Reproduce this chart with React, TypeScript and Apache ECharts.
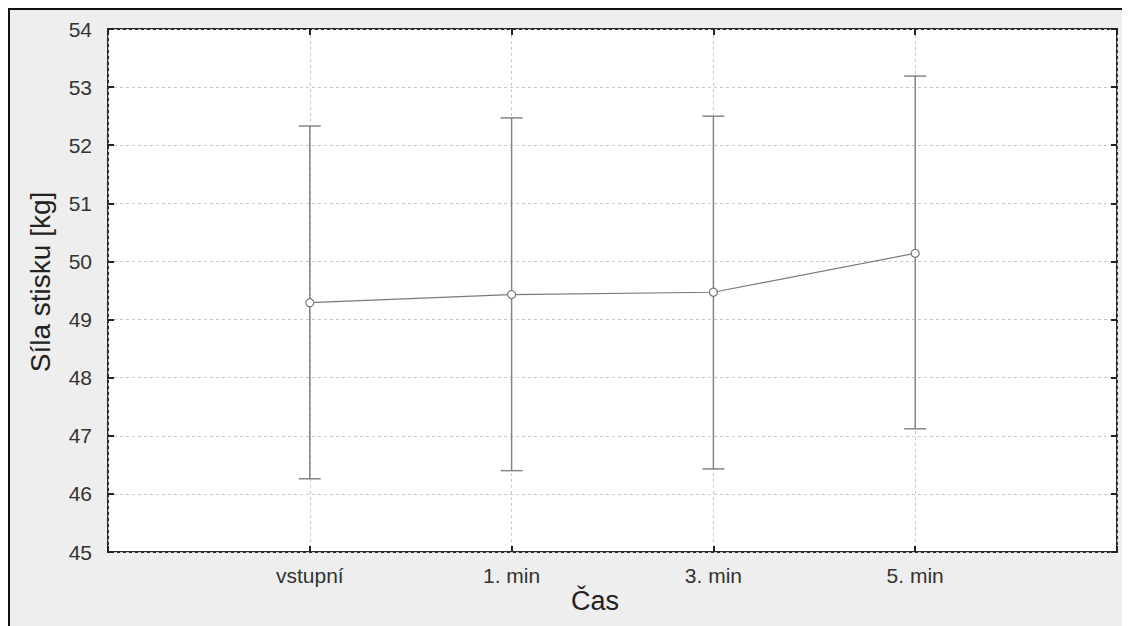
import React, { useEffect, useRef } from "react";
import * as echarts from "echarts";

const categories = ["", "vstupní", "1. min", "3. min", "5. min", ""];
const means = [49.29, 49.43, 49.47, 50.14];
const lower = [46.26, 46.40, 46.43, 47.12];
const upper = [52.33, 52.47, 52.50, 53.19];
const yTicks = [45, 46, 47, 48, 49, 50, 51, 52, 53, 54];
const xTitle = "Čas";
const yTitle = "Síla stisku [kg]";

const FONT = "'Liberation Sans', Arial, sans-serif";

export default function App() {
  const ref = useRef<HTMLDivElement>(null);
  useEffect(() => {
    if (!ref.current) return;
    const chart = echarts.init(ref.current, undefined, { renderer: "svg" });
    const lineData = ["-", ...means.map((m) => m), "-"];
    const errData = means.map((_, i) => [i + 1, lower[i], upper[i]]);
    chart.setOption({
      animation: false,
      backgroundColor: "#eeeeee",
      grid: {
        left: 98,
        right: 13,
        top: 19,
        bottom: 74,
        show: true,
        backgroundColor: "#ffffff",
        borderColor: "#2a2a2a",
        borderWidth: 2,
      },
      graphic: [
        {
          type: "text",
          x: 585,
          y: 591,
          style: {
            text: xTitle,
            fontFamily: FONT,
            fontSize: 27,
            fill: "#222",
            align: "center",
            verticalAlign: "middle",
          },
        },
        {
          type: "text",
          x: 30,
          y: 272,
          rotation: Math.PI / 2,
          style: {
            text: yTitle,
            fontFamily: FONT,
            fontSize: 28,
            fill: "#222",
            align: "center",
            verticalAlign: "middle",
          },
        },
      ],
      xAxis: [
        {
          type: "category",
          data: categories,
          boundaryGap: false,
          position: "bottom",
          axisLine: { show: false },
          axisTick: { show: true, inside: true, length: 6, lineStyle: { color: "#222", width: 2 } },
          axisLabel: { fontFamily: FONT, fontSize: 21, color: "#333", margin: 13, interval: 0 },
          splitLine: { show: true, lineStyle: { color: "#c8c8c8", type: [3, 3], width: 1 } },
        },
        {
          type: "category",
          data: categories,
          boundaryGap: false,
          position: "top",
          axisLine: { show: false },
          axisTick: { show: true, inside: true, length: 6, lineStyle: { color: "#222", width: 2 } },
          axisLabel: { show: false },
          splitLine: { show: false },
        },
      ],
      yAxis: [
        {
          type: "value",
          min: 45,
          max: 54,
          interval: 1,
          axisLine: { show: false },
          axisTick: { show: true, inside: true, length: 6, lineStyle: { color: "#222", width: 2 } },
          axisLabel: {
            fontFamily: FONT,
            fontSize: 21,
            color: "#333",
            margin: 16,
            formatter: (v: number) => (yTicks.includes(v) ? String(v) : ""),
          },
          splitLine: { show: true, lineStyle: { color: "#c8c8c8", type: [3, 3], width: 1 } },
        },
        {
          type: "value",
          min: 45,
          max: 54,
          interval: 1,
          position: "right",
          axisLine: { show: false },
          axisTick: { show: true, inside: true, length: 6, lineStyle: { color: "#222", width: 2 } },
          axisLabel: { show: false },
          splitLine: { show: false },
        },
      ],
      series: [
        {
          type: "custom",
          xAxisIndex: 0,
          yAxisIndex: 0,
          data: errData,
          encode: { x: 0, y: [1, 2] },
          renderItem: (params: any, api: any) => {
            const x = api.value(0);
            const lo = api.coord([x, api.value(1)]);
            const hi = api.coord([x, api.value(2)]);
            const w = 11;
            const style = { stroke: "#858585", lineWidth: 1.5, fill: "none" };
            return {
              type: "group",
              children: [
                { type: "line", shape: { x1: lo[0], y1: lo[1], x2: hi[0], y2: hi[1] }, style },
                { type: "line", shape: { x1: lo[0] - w, y1: lo[1], x2: lo[0] + w, y2: lo[1] }, style },
                { type: "line", shape: { x1: hi[0] - w, y1: hi[1], x2: hi[0] + w, y2: hi[1] }, style },
              ],
            };
          },
          z: 2,
        },
        {
          type: "line",
          xAxisIndex: 0,
          yAxisIndex: 0,
          data: lineData,
          symbol: "circle",
          symbolSize: 8,
          showSymbol: true,
          lineStyle: { color: "#7a7a7a", width: 1.2 },
          itemStyle: { color: "#ffffff", borderColor: "#777777", borderWidth: 1.2 },
          z: 3,
        },
      ],
    });
    return () => chart.dispose();
  }, []);
  return (
    <div
      style={{
        width: 1122,
        height: 618,
        borderTop: "2px solid #111",
        borderLeft: "2px solid #111",
        boxSizing: "border-box",
        background: "#eeeeee",
      }}
    >
      <div ref={ref} style={{ width: 1120, height: 616 }} />
    </div>
  );
}
